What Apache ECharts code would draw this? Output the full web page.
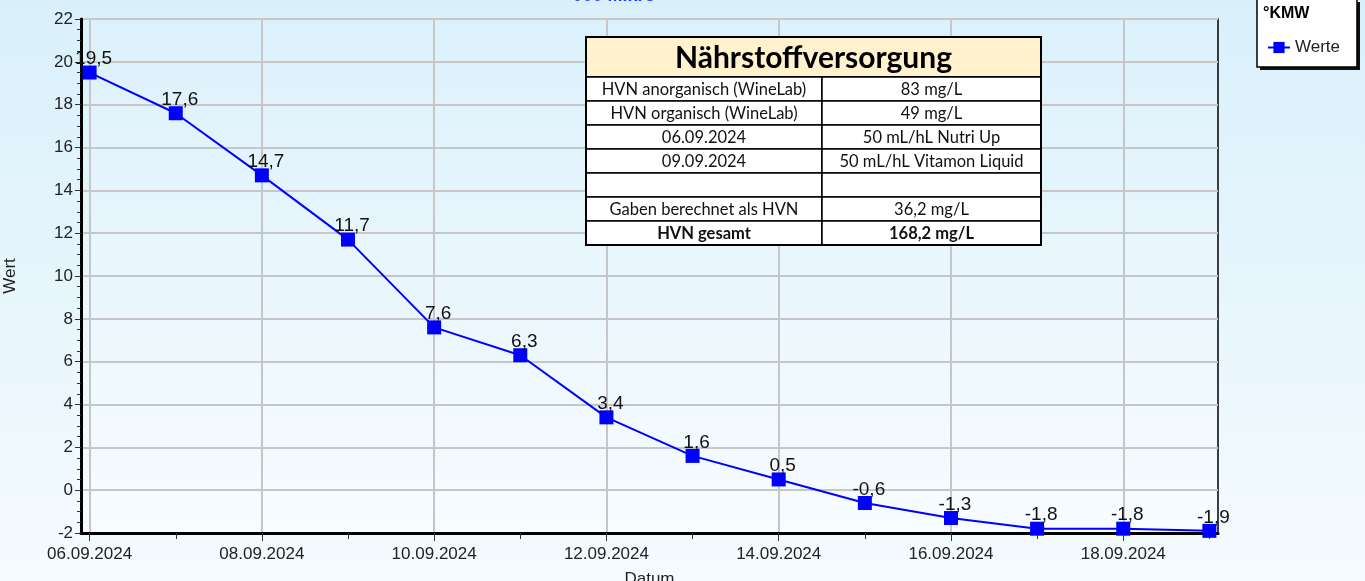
<!DOCTYPE html>
<html>
<head>
<meta charset="utf-8">
<script src="https://cdn.jsdelivr.net/npm/echarts@6/dist/echarts.min.js"></script>
<style>
  html, body { margin: 0; padding: 0; }
  body { background: linear-gradient(to bottom, #d9f0fb 0%, #f5fbfe 100%); }
</style>
</head>
<body>
<div id="main" style="width: 1365px; height: 581px"></div>
<script>
// data
var dates = ["06.09.2024", "07.09.2024", "08.09.2024", "09.09.2024", "10.09.2024", "11.09.2024", "12.09.2024",
  "13.09.2024", "14.09.2024", "15.09.2024", "16.09.2024", "17.09.2024", "18.09.2024", "19.09.2024"];
var werte = [19.5, 17.6, 14.7, 11.7, 7.6, 6.3, 3.4, 1.6, 0.5, -0.6, -1.3, -1.8, -1.8, -1.9];
var majorDays = [0, 2, 4, 6, 8, 10, 12];
var minorDays = [1, 3, 5, 7, 9, 11, 13];

var tableTitle = "Nährstoffversorgung";
var tableRows = [
  ["HVN anorganisch (WineLab)", "83 mg/L"],
  ["HVN organisch (WineLab)", "49 mg/L"],
  ["06.09.2024", "50 mL/hL Nutri Up"],
  ["09.09.2024", "50 mL/hL Vitamon Liquid"],
  ["", ""],
  ["Gaben berechnet als HVN", "36,2 mg/L"],
  ["HVN gesamt", "168,2 mg/L"]
];

var chartDom = document.getElementById("main");
var myChart = echarts.init(chartDom);
var option;

var seriesData = werte.map(function (v, i) {
  return [i, v];
});

// table drawn as graphic (z high so grid lines stay behind)
var tx = 586, ty = 37, tw = 455, headH = 40, rowH = 24, colX = 822;
var tableEls = [];
tableEls.push({
  type: "rect",
  z: 100,
  shape: { x: tx, y: ty, width: tw, height: headH },
  style: { fill: "#fff2cc", stroke: "#000", lineWidth: 2 }
});
tableEls.push({
  type: "text",
  z: 103,
  x: tx + tw / 2,
  y: ty + headH / 2 + 1,
  style: {
    text: tableTitle, fill: "#000", font: "bold 30px Lato, 'Noto Sans', sans-serif",
    align: "center", verticalAlign: "middle"
  }
});
tableRows.forEach(function (row, i) {
  var y = ty + headH + i * rowH;
  var last = i === tableRows.length - 1;
  var font = (last ? "bold " : "") + "16.5px Lato, 'Noto Sans', sans-serif";
  tableEls.push({
    type: "rect",
    z: 100,
    shape: { x: tx, y: y, width: colX - tx, height: rowH },
    style: { fill: "#fff", stroke: "#000", lineWidth: 1.5 }
  });
  tableEls.push({
    type: "rect",
    z: 100,
    shape: { x: colX, y: y, width: tx + tw - colX, height: rowH },
    style: { fill: "#fff", stroke: "#000", lineWidth: 1.5 }
  });
  tableEls.push({
    type: "text",
    z: 103,
    x: (tx + colX) / 2, y: y + rowH / 2 + 1,
    style: { text: row[0], fill: "#111", font: font, align: "center", verticalAlign: "middle" }
  });
  tableEls.push({
    type: "text",
    z: 103,
    x: (colX + tx + tw) / 2, y: y + rowH / 2 + 1,
    style: { text: row[1], fill: "#111", font: font, align: "center", verticalAlign: "middle" }
  });
});
tableEls.push({
  type: "rect",
  z: 102,
  shape: { x: tx, y: ty, width: tw, height: headH + rowH * tableRows.length },
  style: { fill: null, stroke: "#000", lineWidth: 2 }
});

option = {
  animation: false,
  textStyle: { fontFamily: "'Liberation Sans', Arial, sans-serif" },
  graphic: [
    {
      type: "text",
      x: 614, y: -13,
      z: 100,
      style: {
        text: "000 Mikro", fill: "#1f3cff", font: "bold 18px 'Liberation Sans', Arial, sans-serif",
        align: "center"
      }
    },
    // legend box
    {
      type: "rect",
      z: 100,
      shape: { x: 1260, y: 2, width: 100, height: 68 },
      style: { fill: "#111" }
    },
    {
      type: "rect",
      z: 101,
      shape: { x: 1257, y: -1, width: 100, height: 68 },
      style: { fill: "#fff", stroke: "#000", lineWidth: 1.5 }
    },
    {
      type: "text",
      z: 102,
      x: 1263, y: 6,
      style: { text: "°KMW", fill: "#000", font: "bold 16px 'Liberation Sans', Arial, sans-serif" }
    },
    { type: "group", z: 100, children: tableEls }
  ],
  legend: {
    data: ["Werte"],
    left: 1262,
    top: 34,
    z: 110,
    itemWidth: 22,
    itemHeight: 14,
    itemGap: 5,
    textStyle: { fontSize: 17, color: "#222" }
  },
  grid: {
    left: 81,
    right: 147,
    top: 19,
    bottom: 48,
    outerBoundsMode: "none",
    containLabel: false,
    show: true,
    borderColor: "#000",
    borderWidth: 1.5,
    backgroundColor: new echarts.graphic.LinearGradient(0, 0, 0, 1, [
      { offset: 0, color: "#dcf1fb" },
      { offset: 1, color: "#f7fcff" }
    ])
  },
  xAxis: [
    {
      type: "value",
      min: -0.1,
      max: 13.1,
      name: "Datum",
      nameLocation: "middle",
      nameGap: 38,
      nameTextStyle: { fontSize: 17, color: "#222" },
      axisLine: { onZero: false, lineStyle: { color: "#000", width: 3 } },
      axisTick: { customValues: majorDays, length: 8, lineStyle: { color: "#333", width: 1 } },
      axisLabel: {
        customValues: majorDays,
        fontSize: 17,
        color: "#222",
        margin: 13,
        formatter: function (v) {
          return dates[Math.round(v)];
        }
      },
      splitLine: { show: true, lineStyle: { color: "#c6c6c6", width: 2 } }
    },
    {
      type: "value",
      position: "bottom",
      min: -0.1,
      max: 13.1,
      axisLine: { show: false, onZero: false },
      axisTick: { customValues: minorDays, length: 6, lineStyle: { color: "#333", width: 1 } },
      axisLabel: { show: false },
      splitLine: { show: false }
    }
  ],
  yAxis: {
    type: "value",
    min: -2,
    max: 22,
    interval: 2,
    name: "Wert",
    nameLocation: "middle",
    nameGap: 62,
    nameTextStyle: { fontSize: 17, color: "#222" },
    axisLine: { show: true, onZero: false, lineStyle: { color: "#000", width: 3 } },
    axisTick: { show: true, length: 6, lineStyle: { color: "#333" } },
    minorTick: { show: true, splitNumber: 4, length: 4, lineStyle: { color: "#333" } },
    axisLabel: { fontSize: 17, color: "#222", margin: 8 },
    splitLine: { show: true, lineStyle: { color: "#c6c6c6", width: 2 } }
  },
  series: [
    {
      name: "Werte",
      type: "line",
      xAxisIndex: 0,
      data: seriesData,
      symbol: "rect",
      symbolSize: 14,
      clip: false,
      lineStyle: { color: "#0000ff", width: 2 },
      itemStyle: { color: "#0000ff" },
      label: {
        show: true,
        position: "top",
        distance: 0,
        offset: [4, 3],
        fontSize: 19,
        color: "#111",
        formatter: function (p) {
          return String(p.value[1]).replace(".", ",");
        }
      }
    }
  ]
};

option && myChart.setOption(option);
</script>
</body>
</html>
